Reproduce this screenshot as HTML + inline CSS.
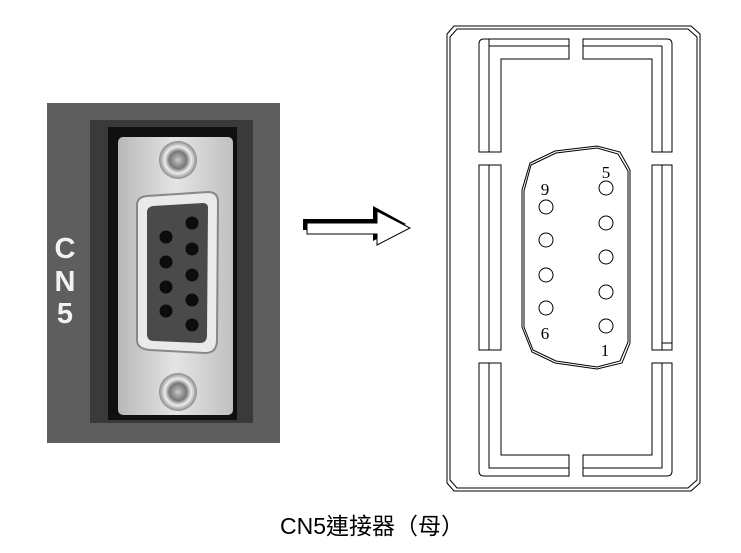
<!DOCTYPE html>
<html><head><meta charset="utf-8"><style>
html,body{margin:0;padding:0;background:#fff;width:741px;height:553px;overflow:hidden}
</style></head><body>
<svg width="741" height="553" viewBox="0 0 741 553" xmlns="http://www.w3.org/2000/svg">
<defs>
<linearGradient id="mg" x1="0" y1="0" x2="1" y2="0">
<stop offset="0" stop-color="#b8b8b8"/><stop offset="0.5" stop-color="#e4e4e4"/><stop offset="1" stop-color="#c0c0c0"/>
</linearGradient>
<radialGradient id="sg"><stop offset="0" stop-color="#c8c8c8"/><stop offset="0.45" stop-color="#777"/><stop offset="0.7" stop-color="#eee"/><stop offset="1" stop-color="#888"/></radialGradient>
</defs>
<rect x="47" y="103" width="233" height="340" fill="#5e5e5e"/>
<rect x="90" y="120" width="163" height="303" fill="#3a3a3a"/>
<rect x="108" y="127" width="129" height="293" fill="#101010"/>
<rect x="118" y="137" width="115" height="278" rx="5" fill="url(#mg)"/>
<circle cx="178" cy="160" r="19" fill="url(#sg)"/>
<circle cx="178" cy="392" r="19" fill="url(#sg)"/>
<path d="M137,205 Q137,197 147,196 L208,192 Q218,192 218,202 L217,340 Q217,353 205,353 L150,350 Q137,349 137,340 Z" fill="#eaeaea" stroke="#888" stroke-width="2"/>
<path d="M147,212 Q147,207 153,206 L203,203 Q208,203 208,208 L207,335 Q207,343 200,343 L154,341 Q147,341 147,334 Z" fill="#4a4a4a"/>
<g fill="#0c0c0c">
<circle cx="166" cy="237" r="6.5"/><circle cx="166" cy="262" r="6.5"/><circle cx="166" cy="287" r="6.5"/><circle cx="166" cy="311" r="6.5"/>
<circle cx="192" cy="223" r="6.5"/><circle cx="192" cy="249" r="6.5"/><circle cx="192" cy="275" r="6.5"/><circle cx="192" cy="300" r="6.5"/><circle cx="192" cy="325" r="6.5"/>
</g>
<g fill="#f2f2f2" font-family="Liberation Sans, sans-serif" font-size="29" font-weight="bold" text-anchor="middle">
<text x="65" y="258">C</text><text x="65" y="291">N</text><text x="65" y="323">5</text>
</g>
<polygon points="303,219 373,219 373,206 406,224 373,241 373,230 303,230" fill="#000"/>
<polygon points="307,223 377,223 377,211 410,228 377,245 377,234 307,234" fill="#fff" stroke="#000" stroke-width="1"/>
<g fill="none" stroke="#000" stroke-width="1">
<polygon points="454,26 691,26 700,34 700,483 691,491 454,491 447,483 447,34"/>
<polygon points="457,29 688,29 697,37 697,480 688,488 457,488 450,480 450,37"/>
<path d="M569,39 L484,39 Q479,39 479,44 L479,152 L501,152 L501,59 L569,59 Z"/>
<path d="M489,39 L489,152 M489,46 L569,46"/>
<path d="M583,39 L667,39 Q672,39 672,44 L672,152 L652,152 L652,59 L583,59 Z"/>
<path d="M662,46 L662,152 M583,46 L662,46"/>
<rect x="479" y="165" width="22" height="185"/><path d="M489,165 L489,350"/>
<rect x="652" y="165" width="20" height="185"/><path d="M662,165 L662,350"/>
<rect x="662" y="343" width="10" height="7"/>
<path d="M569,476 L484,476 Q479,476 479,471 L479,363 L501,363 L501,455 L569,455 Z"/>
<path d="M489,363 L489,468 L569,468"/>
<path d="M583,476 L667,476 Q672,476 672,471 L672,363 L652,363 L652,455 L583,455 Z"/>
<path d="M662,363 L662,468 L583,468"/>
<path d="M530,163 L555,151 L597,146 L620,152 L630,170 L630,343 L622,363 L597,369 L555,363 L532,352 L522,327 L522,190 Z"/>
<path d="M531,165 L556,153 L597,148 L618,154 L628,171 L628,342 L620,361 L597,367 L556,361 L533,350 L524,327 L524,191 Z"/>
<circle cx="546" cy="207" r="7"/><circle cx="546" cy="240" r="7"/><circle cx="546" cy="275" r="7"/><circle cx="546" cy="308" r="7"/>
<circle cx="606" cy="188" r="7"/><circle cx="606" cy="223" r="7"/><circle cx="606" cy="257" r="7"/><circle cx="606" cy="292" r="7"/><circle cx="606" cy="326" r="7"/>
</g>
<g font-family="Liberation Serif, serif" font-size="17" text-anchor="middle" fill="#000">
<text x="606" y="178">5</text><text x="545" y="195">9</text><text x="545" y="339">6</text><text x="605" y="356">1</text>
</g>
<text x="372" y="534" text-anchor="middle" font-family="Liberation Sans, 'Noto Sans CJK TC', sans-serif" font-size="23" fill="#000">CN5連接器（母）</text>
</svg>
</body></html>
